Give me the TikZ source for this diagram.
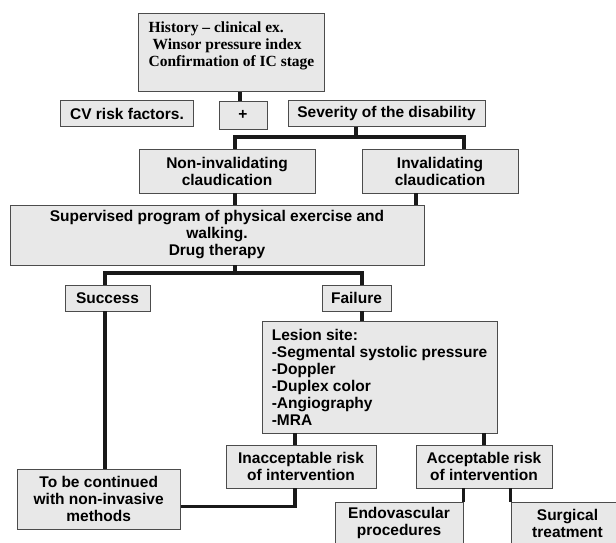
\documentclass[tikz,border=0pt]{standalone}
\usepackage{fontspec}
\setmainfont{Liberation Serif}
\setsansfont{Liberation Sans}
\usepackage{tikz}
\definecolor{boxgray}{RGB}{232,232,232}
\tikzset{box/.style={draw=black!70, line width=0.8pt, fill=boxgray, inner sep=0pt, align=center, text=black, font=\sffamily\bfseries\fontsize{15.5}{17}\selectfont}, link/.style={draw=black!90, line width=3.2pt}}

\begin{document}
\begin{tikzpicture}[x=1pt, y=-1pt]
            \useasboundingbox (0,0) rectangle (616,542);
            \node[box, minimum width=186pt, minimum height=78pt, align=left, font=\rmfamily\bfseries\fontsize{15.5}{17}\selectfont] (hist) at (231.5,52.5) {History -- clinical ex.\\ \hspace*{4pt}Winsor pressure index\\ Confirmation of IC stage\\ \mbox{}};
            \node[box, minimum width=133pt, minimum height=25.5pt] (cv) at (127,113.5) {CV risk factors.};
            \node[box, minimum width=48pt, minimum height=28pt] (plus) at (243,115) {+};
            \node[box, minimum width=197pt, minimum height=25.5pt] (sev) at (386.5,113.5) {Severity of the disability};
            \node[box, minimum width=176pt, minimum height=44pt] (noninv) at (227,171) {Non-invalidating\\claudication};
            \node[box, minimum width=156pt, minimum height=44pt] (inval) at (440,171) {Invalidating\\claudication};
            \node[box, minimum width=414pt, minimum height=60pt] (prog) at (217,235) {Supervised program of physical exercise and\\walking.\\Drug therapy};
            \node[box, minimum width=85pt, minimum height=26pt] (succ) at (107.5,298) {Success};
            \node[box, minimum width=69pt, minimum height=26pt] (fail) at (356.5,298) {Failure};
            \node[box, minimum width=235pt, minimum height=112pt, align=left] (lesion) at (379.5,377) {Lesion site:\\-Segmental systolic pressure\\-Doppler\\-Duplex color\\-Angiography\\-MRA};
            \node[box, minimum width=150pt, minimum height=43pt] (inacc) at (301,466.5) {Inacceptable risk\\of intervention};
            \node[box, minimum width=136pt, minimum height=43pt] (acc) at (484,466.5) {Acceptable risk\\of intervention};
            \node[box, minimum width=163pt, minimum height=60pt] (cont) at (98.7,499.3) {To be continued\\with non-invasive\\methods};
            \node[box, minimum width=128pt, minimum height=42pt] (endo) at (399,523) {Endovascular\\procedures};
            \node[box, minimum width=113pt, minimum height=42pt] (surg) at (567.5,523) {Surgical\\treatment};

            \coordinate (bus1) at (356,137);
            \coordinate (bus2) at (235,273);

            \draw[link] ([xshift=-3pt]plus.north |- hist.south) -- ([xshift=-3pt]plus.north);
            \draw[link] (sev.south -| bus1) -- (bus1);
            \draw[link] ([xshift=8pt]noninv.north) |- (bus1) -| ([xshift=24pt]inval.north);
            \draw[link] ([xshift=8pt]noninv.south) -- ([xshift=8pt]noninv.south |- prog.north);
            \draw[link] ([xshift=-24pt]inval.south) -- ([xshift=-24pt]inval.south |- prog.north);
            \draw[link] (prog.south -| bus2) -- (bus2);
            \draw[link] ([xshift=-2.5pt]succ.north) |- (bus2) -| ([xshift=5.5pt]fail.north);
            \draw[link] ([xshift=5.5pt]fail.south) -- ([xshift=5.5pt]fail.south |- lesion.north);
            \draw[link] ([xshift=-2.5pt]succ.south) -- ([xshift=-2.5pt]succ.south |- cont.north);
            \draw[link] ([xshift=-6pt]inacc.north |- lesion.south) -- ([xshift=-6pt]inacc.north);
            \draw[link] (acc.north |- lesion.south) -- (acc.north);
            \draw[link] ([xshift=-6pt]inacc.south) |- ([yshift=-7.4pt]cont.east);
            \draw[link] (endo.north east |- acc.south) -- (endo.north east);
            \draw[link] (surg.north west |- acc.south) -- (surg.north west);
        \end{tikzpicture}
\end{document}
